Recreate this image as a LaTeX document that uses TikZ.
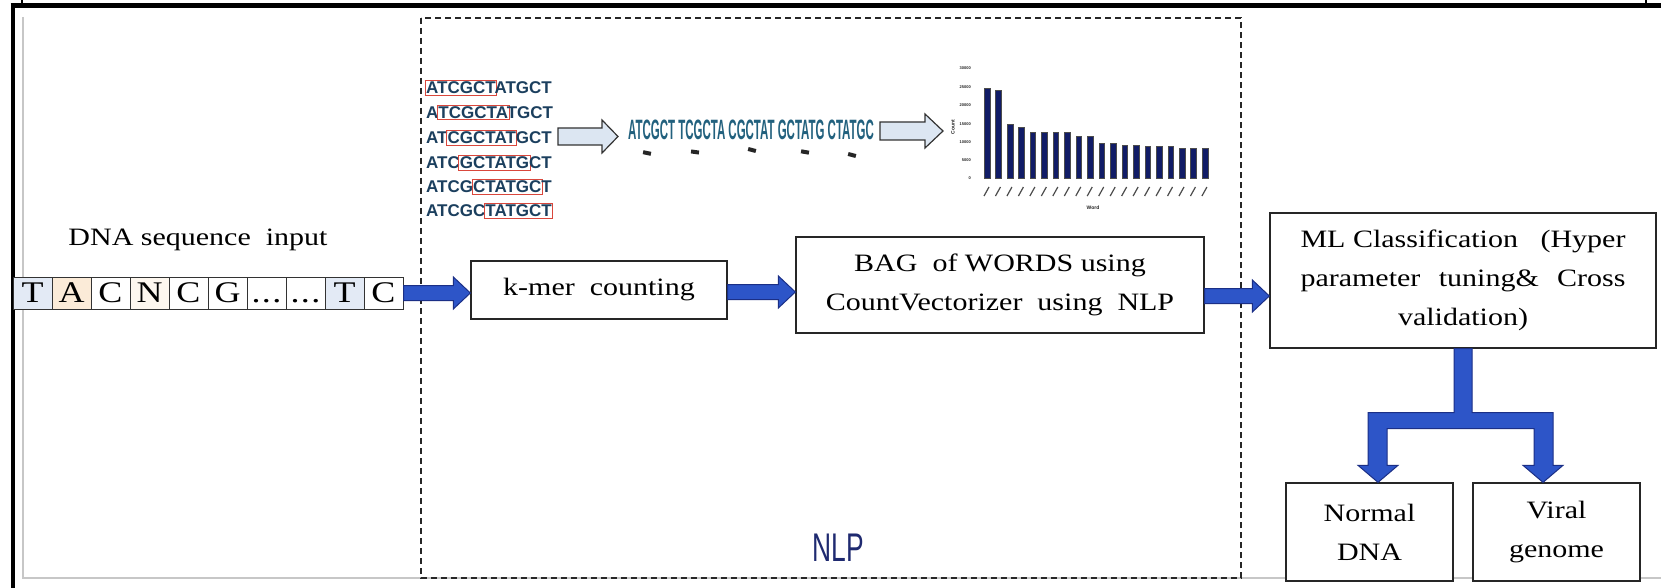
\documentclass[tikz,border=0pt]{standalone}
\usepackage{fontspec}
\usepackage{graphicx}
\setmainfont{Liberation Serif}[FakeStretch=1.2]
\newfontfamily\seqsans{Liberation Sans}
\usetikzlibrary{calc}

\definecolor{flowblue}{HTML}{2D55C8}
\definecolor{flowedge}{HTML}{1B2F86}
\definecolor{kmerink}{HTML}{1B3F5E}
\definecolor{wordink}{HTML}{22617E}
\definecolor{barnavy}{HTML}{111C66}
\definecolor{nlpnavy}{HTML}{1F2A70}
\definecolor{hintblue}{HTML}{E3EAF5}
\definecolor{hintorange}{HTML}{FBEBD8}
\definecolor{paleblue}{HTML}{DCE6F2}
\definecolor{winred}{HTML}{D9473C}

% red frame laid over a k-mer window without shifting the letters
\newcommand\kwin[1]{\makebox[0pt][l]{\hspace{-1.5pt}\textcolor{winred}{\setlength{\fboxsep}{0.5pt}\setlength{\fboxrule}{1pt}\fbox{\phantom{#1}}}}#1}

% horizontal block arrow from #1 to the x of #2, at the height of #1
\newcommand\hflow[2]{%
  \filldraw[flowstyle] let \p1=(#1), \p2=(#2) in
    (\x1,\y1+7.5pt) -- (\x2-17pt,\y1+7.5pt) -- (\x2-17pt,\y1+16pt) -- (\x2,\y1)
    -- (\x2-17pt,\y1-16pt) -- (\x2-17pt,\y1-7.5pt) -- (\x1,\y1-7.5pt) -- cycle;}

\begin{document}
\begin{tikzpicture}[x=1pt,y=-1pt,
  flowstyle/.style={fill=flowblue, draw=flowedge, line width=1pt, line join=miter},
  box/.style={draw=black!85, line width=1.3pt, fill=white, inner sep=0pt, align=center,
              font=\fontsize{25}{39}\selectfont},
  seqcell/.style={draw=black!80, line width=1pt, minimum width=39pt, minimum height=32pt,
                  inner sep=0pt, font=\fontsize{30}{30}\selectfont},
  seqdots/.style={inner sep=0pt, anchor=base, font=\fontsize{30}{30}\selectfont},
  kmerline/.style={anchor=west, inner sep=0pt, text=kmerink,
                   font=\seqsans\bfseries\fontsize{17}{17}\selectfont},
  hollowarrow/.style={fill=paleblue, draw=black!80, line width=1.2pt, line join=miter},
  tinylabel/.style={inner sep=0pt, text=black!85, font=\seqsans\bfseries\fontsize{4}{4}\selectfont},
  bar/.style={fill=barnavy, draw=black!70, line width=0.4pt}]

\useasboundingbox (0,0) rectangle (1661,588);
\fill[white] (0,0) rectangle (1661,588);

% outer frame
\draw[line width=5pt] (10.5,5.8) -- (1661,5.8);
\draw[line width=4pt] (13,3.5) -- (13,588);
\draw[line width=1.2pt] (22,0) -- (22,4);
\draw[line width=1.2pt] (1646,0) -- (1646,4);
\draw[black!22, line width=1.5pt] (23,17) -- (23,578) -- (1661,578);

% NLP region
\draw[black!85, line width=1.4pt, dash pattern=on 6pt off 4pt] (421,18) rectangle (1241,578);
\node[text=nlpnavy, font=\seqsans\fontsize{40}{40}\selectfont, inner sep=0pt] (nlp) at (838,548)
  {\scalebox{0.66}[1]{NLP}};

% input sequence
\node[inner sep=0pt, font=\fontsize{25}{25}\selectfont] (dnalabel) at (198,240) {DNA sequence\ \ input};
\foreach \c/\f [count=\i] in {T/hintblue, A/hintorange, C/white, N/hintorange!40, C/white, G/white}
  \node[seqcell, fill=\f] (s\i) at ({13+39*(\i-0.5)},293) {\c};
\node[seqcell] (s7) at (266.5,293) {};
\node[seqcell] (s8) at (305.5,293) {};
\node[seqdots] (g7) at (s7.center |- s6.base) {.\kern1.5pt.\kern1.5pt.};
\node[seqdots] (g8) at (s8.center |- s6.base) {.\kern1.5pt.\kern1.5pt.};
\node[seqcell, fill=hintblue] (s9) at (344.5,293) {T};
\node[seqcell] (s10) at (383.5,293) {C};

% pipeline boxes
\node[box, minimum width=256pt, minimum height=58pt] (kmer) at (599,290) {k-mer\ \ counting};
\node[box, minimum width=408pt, minimum height=96pt] (bow) at (1000,285)
  {BAG\ \ of WORDS using\\CountVectorizer\ \ using\ \ NLP};
\node[box, minimum width=386pt, minimum height=135pt] (ml) at (1463,280.5)
  {\makebox[325pt][s]{ML Classification\hspace{\fill}(Hyper}\\
   \makebox[325pt][s]{parameter\hspace{\fill}tuning\&\hspace{\fill}Cross}\\
   validation)};
\node[box, minimum width=167pt, minimum height=98pt] (normal) at (1369.5,532) {Normal\\DNA};
\node[box, minimum width=167pt, minimum height=98pt] (viral) at (1556.5,532) {Viral\\genome};

% block arrows between the stages
\hflow{s10.east}{kmer.west}
\hflow{$(kmer.east)+(0,2)$}{bow.west}
\hflow{$(bow.east)+(0,11)$}{ml.west}

% branch from the classifier to the two outcomes
\filldraw[flowstyle] let \p1=(ml.south), \p2=($(normal.north)+(8.5,0)$), \p3=($(viral.north)+(-13.5,0)$) in
  (\x1-9pt,\y1) -- (\x1-9pt,\y1-64pt) -- (\x2-10pt,\y1-64pt) -- (\x2-10pt,\y2+17pt)
  -- (\x2-20pt,\y2+17pt) -- (\x2,\y2) -- (\x2+20pt,\y2+17pt) -- (\x2+9pt,\y2+17pt)
  -- (\x2+9pt,\y1-80pt) -- (\x3-9pt,\y1-80pt) -- (\x3-9pt,\y2+17pt) -- (\x3-20pt,\y2+17pt)
  -- (\x3,\y2) -- (\x3+20pt,\y2+17pt) -- (\x3+10pt,\y2+17pt) -- (\x3+10pt,\y1-64pt)
  -- (\x1+9pt,\y1-64pt) -- (\x1+9pt,\y1) -- cycle;

% k-mer windows
\node[kmerline] (k1) at (426,88)    {\kwin{ATCGCT}ATGCT};
\node[kmerline] (k2) at (426,112.5) {A\kwin{TCGCTA}TGCT};
\node[kmerline] (k3) at (426,138)   {AT\kwin{CGCTAT}GCT};
\node[kmerline] (k4) at (426,163)   {ATC\kwin{GCTATG}CT};
\node[kmerline] (k5) at (426,187)   {ATCG\kwin{CTATGC}T};
\node[kmerline] (k6) at (426,211)   {ATCGC\kwin{TATGCT}};

% hollow arrow to the word list
\filldraw[hollowarrow] (558,128) -- (602,128) -- (602,120) -- (618,136.5) -- (602,153)
  -- (602,145) -- (558,145) -- cycle;

\node[inner sep=0pt, text=wordink, font=\seqsans\bfseries\fontsize{28}{28}\selectfont] (words) at (751,130)
  {\scalebox{0.41}[1]{ATCGCT TCGCTA CGCTAT GCTATG CTATGC}};
\foreach \mx/\my/\ang in {647/153/-12, 695/152/-8, 752/150/-15, 805/152/-10, 852/155/-15}
  \fill[black!85, rotate around={\ang:(\mx,\my)}] (\mx-4,\my-2) rectangle (\mx+4,\my+2);

% hollow arrow to the count chart
\filldraw[hollowarrow] (880,122) -- (925,122) -- (925,114) -- (943,131) -- (925,148)
  -- (925,140) -- (880,140) -- cycle;

% word count chart
\node[tinylabel, font=\seqsans\bfseries\fontsize{5}{5}\selectfont, rotate=90] (ytitle) at (953,127) {Count};
\foreach \v/\yy in {0/178, 5000/160, 10000/142, 15000/124, 20000/105, 25000/87, 30000/68}
  \node[tinylabel, anchor=east] at (971,\yy) {\v};
\foreach \t [count=\i] in {88,90,124,127,132,132,132,132,136,136,143,143,145,145,146,146,146,148,148,148}
  {\draw[bar] ({987+(\i-1)*11.47-2.8},178) rectangle ({987+(\i-1)*11.47+2.8},\t);
   \draw[black!70, line width=1.2pt] ({987+(\i-1)*11.47-3},196) -- ({987+(\i-1)*11.47+2},187);}
\node[tinylabel, font=\seqsans\bfseries\fontsize{5}{5}\selectfont] (xtitle) at (1093,208) {Word};

\end{tikzpicture}
\end{document}
